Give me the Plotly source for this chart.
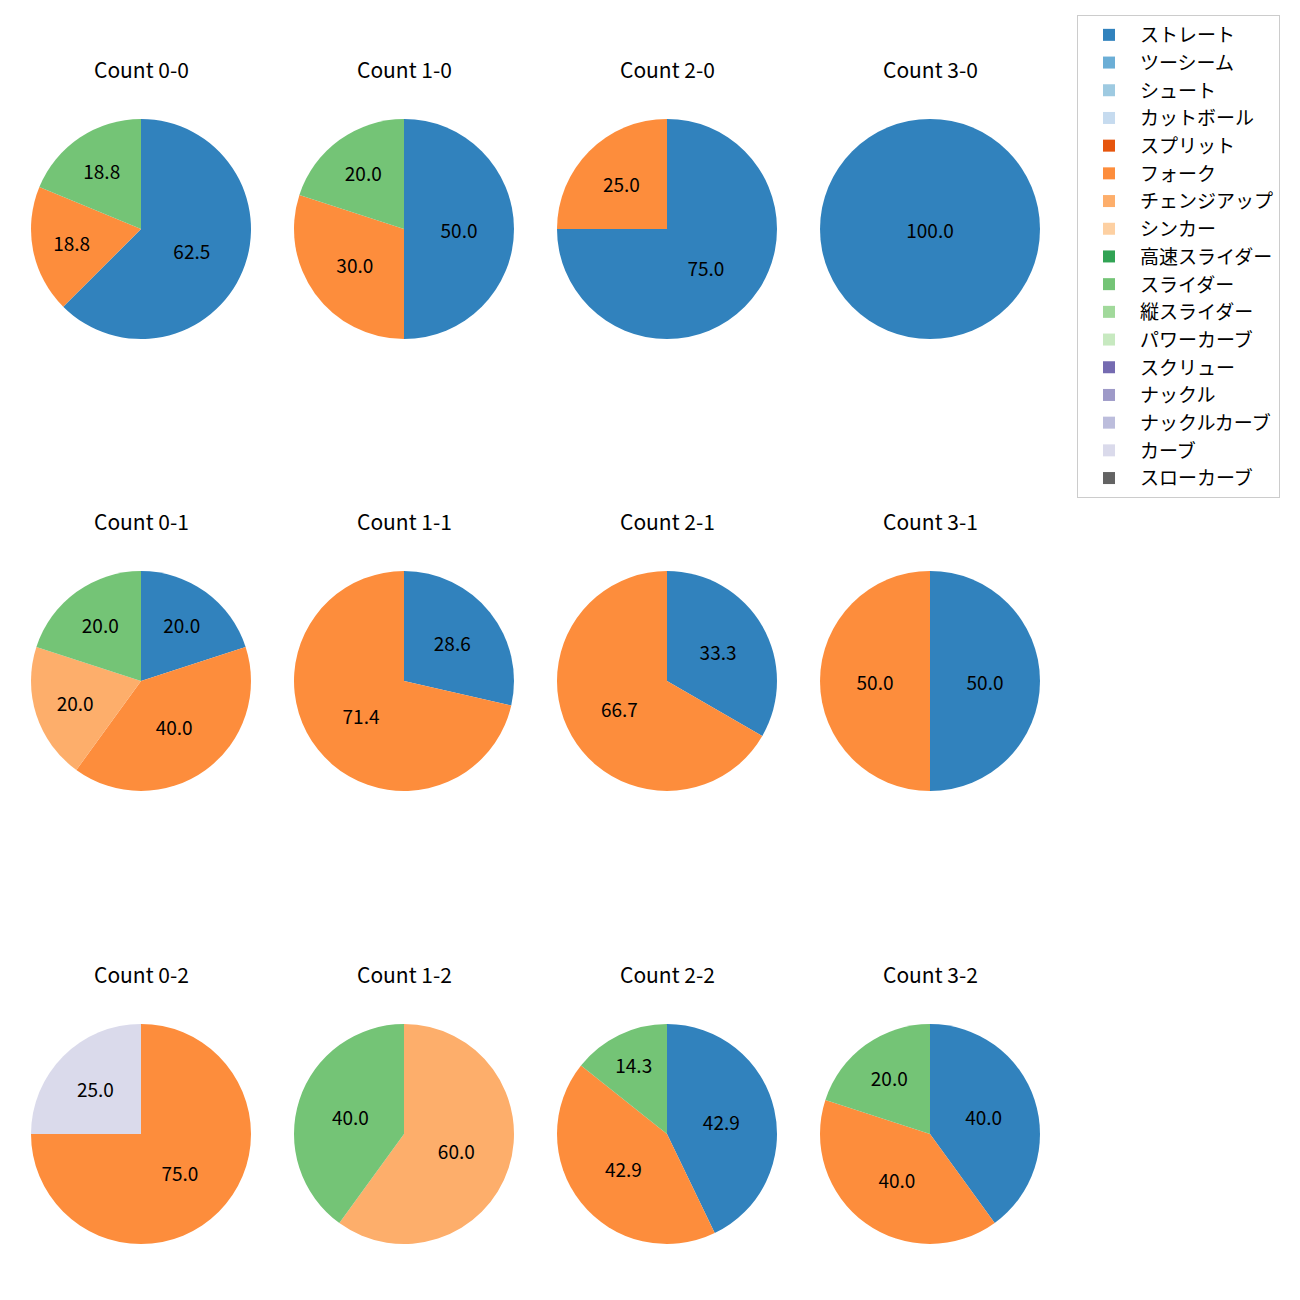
import plotly.graph_objects as go

categories = ["ストレート", "ツーシーム", "シュート", "カットボール", "スプリット", "フォーク",
              "チェンジアップ", "シンカー", "高速スライダー", "スライダー", "縦スライダー",
              "パワーカーブ", "スクリュー", "ナックル", "ナックルカーブ", "カーブ", "スローカーブ"]
colors = ["#3182bd", "#6baed6", "#9ecae1", "#c6dbef", "#e6550d", "#fd8d3c", "#fdae6b", "#fdd0a2",
          "#31a354", "#74c476", "#a1d99b", "#c7e9c0", "#756bb1", "#9e9ac8", "#bcbddc", "#dadaeb",
          "#636363"]

titles = ["Count 0-0", "Count 1-0", "Count 2-0", "Count 3-0",
          "Count 0-1", "Count 1-1", "Count 2-1", "Count 3-1",
          "Count 0-2", "Count 1-2", "Count 2-2", "Count 3-2"]

# pitch counts per panel, in order of `categories`
count_0_0 = [10, 0, 0, 0, 0, 3, 0, 0, 0, 3, 0, 0, 0, 0, 0, 0, 0]
count_1_0 = [5, 0, 0, 0, 0, 3, 0, 0, 0, 2, 0, 0, 0, 0, 0, 0, 0]
count_2_0 = [3, 0, 0, 0, 0, 1, 0, 0, 0, 0, 0, 0, 0, 0, 0, 0, 0]
count_3_0 = [1, 0, 0, 0, 0, 0, 0, 0, 0, 0, 0, 0, 0, 0, 0, 0, 0]
count_0_1 = [1, 0, 0, 0, 0, 2, 1, 0, 0, 1, 0, 0, 0, 0, 0, 0, 0]
count_1_1 = [2, 0, 0, 0, 0, 5, 0, 0, 0, 0, 0, 0, 0, 0, 0, 0, 0]
count_2_1 = [1, 0, 0, 0, 0, 2, 0, 0, 0, 0, 0, 0, 0, 0, 0, 0, 0]
count_3_1 = [1, 0, 0, 0, 0, 1, 0, 0, 0, 0, 0, 0, 0, 0, 0, 0, 0]
count_0_2 = [0, 0, 0, 0, 0, 3, 0, 0, 0, 0, 0, 0, 0, 0, 0, 1, 0]
count_1_2 = [0, 0, 0, 0, 0, 0, 3, 0, 0, 2, 0, 0, 0, 0, 0, 0, 0]
count_2_2 = [3, 0, 0, 0, 0, 3, 0, 0, 0, 1, 0, 0, 0, 0, 0, 0, 0]
count_3_2 = [2, 0, 0, 0, 0, 2, 0, 0, 0, 1, 0, 0, 0, 0, 0, 0, 0]

panels = [count_0_0, count_1_0, count_2_0, count_3_0,
          count_0_1, count_1_1, count_2_1, count_3_1,
          count_0_2, count_1_2, count_2_2, count_3_2]

W = H = 1300
OFF = 8  # page body margin
col_cx = [141, 404, 667, 930]
row_cy = [229, 681, 1134]
R = 110
title_dy = 160

fig = go.Figure()
annotations = []
for i, (vals, title) in enumerate(zip(panels, titles)):
    r, c = divmod(i, 4)
    cx, cy = col_cx[c] - OFF, row_cy[r] - OFF
    tot = sum(vals)
    txt = [f"{v / tot * 100:.1f}" if v > 0 else "" for v in vals]
    fig.add_trace(go.Pie(
        labels=categories, values=vals, text=txt, textinfo="text",
        textposition="inside", insidetextorientation="horizontal",
        sort=False, direction="clockwise", rotation=0,
        marker=dict(colors=colors, line=dict(width=0)),
        textfont=dict(size=19, color="black", family="Noto Sans CJK JP"),
        domain=dict(x=[(cx - R) / W, (cx + R) / W], y=[1 - (cy + R) / H, 1 - (cy - R) / H]),
        showlegend=(i == 0), hoverinfo="label+value",
    ))
    annotations.append(dict(
        x=cx / W, y=1 - (cy - title_dy) / H, xref="paper", yref="paper",
        text=title, showarrow=False, xanchor="center", yanchor="middle",
        font=dict(size=21, color="black", family="Noto Sans CJK JP"),
    ))

fig.update_layout(
    width=W, height=H, margin=dict(l=0, r=0, t=0, b=0),
    paper_bgcolor="white", plot_bgcolor="white",
    annotations=annotations,
    font=dict(family="Noto Sans CJK JP", color="black"),
    legend=dict(x=(1077 - OFF) / W, y=1 - (15 - OFF) / H, xanchor="left", yanchor="top",
                bordercolor="#cccccc", borderwidth=1, bgcolor="white",
                itemwidth=52,
                font=dict(size=19, color="black", family="Noto Sans CJK JP"),
                traceorder="normal"),
)

fig.write_html("out.html")
